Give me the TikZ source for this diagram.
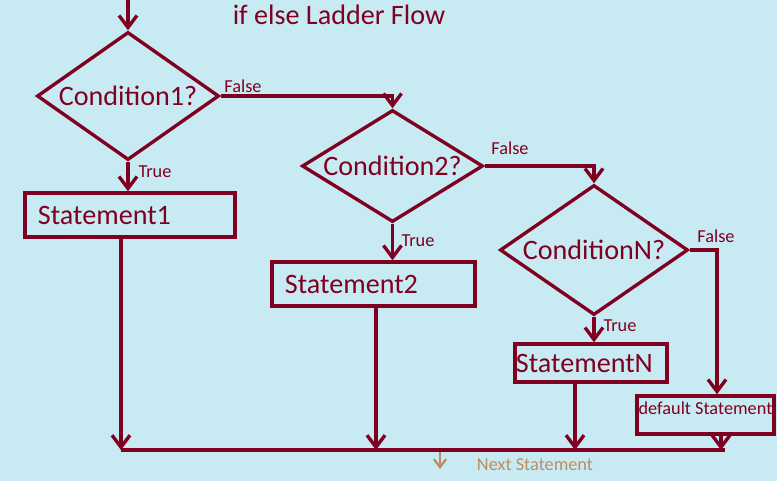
\documentclass[tikz,border=0pt]{standalone}
\usepackage{fontspec}
\setmainfont{Carlito}
\usetikzlibrary{arrows.meta, shapes.geometric}
\definecolor{flowred}{RGB}{127,0,32}
\definecolor{flowbg}{RGB}{200,235,243}
\definecolor{flowtan}{RGB}{190,140,100}

\begin{document}
\begin{tikzpicture}[x=0.025cm, y=-0.025cm, line width=2.4pt, draw=flowred, text=flowred,
    cond/.style = {draw, diamond, inner sep=0pt, font=\fontsize{20}{24}\selectfont},
    stmt/.style = {draw, rectangle, inner ysep=0pt, align=left, font=\fontsize{20}{24}\selectfont},
    lbl/.style = {inner sep=0pt, font=\fontsize{13}{15}\selectfont},
    arr/.style = {-{Straight Barb[length=3mm, width=4.5mm]}}]

    \useasboundingbox (0,0) rectangle (777,481);
    \fill[flowbg] (0,0) rectangle (777,481);

    \node[font=\fontsize{20}{24}\selectfont] (title) at (339,15) {if else Ladder Flow};

    % conditions
    \node[cond, aspect=1.42, minimum width=4.55cm, minimum height=3.2cm] (d1) at (128,96) {Condition1?};
    \node[cond, aspect=1.62, minimum width=4.525cm, minimum height=2.8cm] (d2) at (392.5,166) {Condition2?};
    \node[cond, aspect=1.45, minimum width=4.7cm, minimum height=3.25cm] (dN) at (594,250) {ConditionN?};

    % statements
    \node[stmt, text width=4.6cm, inner xsep=0.325cm, minimum height=1.1cm] (s1) at (130,215) {Statement1};
    \node[stmt, text width=4.425cm, inner xsep=0.325cm, minimum height=1.1cm] (s2) at (373.5,284) {Statement2};
    \node[stmt, text width=3.75cm, inner xsep=0.025cm, minimum height=0.95cm] (sN) at (591,363) {StatementN};
    \node[draw, inner xsep=0pt, inner ysep=0pt, minimum width=3.425cm, minimum height=0.95cm, text depth=10pt,
          font=\fontsize{13}{15}\selectfont] (def) at (705.5,415) {default Statement};

    % labels
    \node[lbl] (f1) at (243,86) {False};
    \node[lbl] (t1) at (155,172) {True};
    \node[lbl] (f2) at (510,148) {False};
    \node[lbl] (t2) at (418,241) {True};
    \node[lbl] (fN) at (716,236) {False};
    \node[lbl] (tN) at (620,326) {True};
    \node[font=\fontsize{13}{15}\selectfont, text=flowtan] (next) at (535,465) {Next Statement};

    \coordinate (entry) at (128,0);
    \coordinate (fc) at (717,250);
    \coordinate (j1) at (121,450);
    \coordinate (j2) at (376,450);
    \coordinate (j3) at (575,450);
    \coordinate (j4) at (721,450);
    \coordinate (je) at (725,450);
    \coordinate (na) at (440,452);
    \coordinate (nb) at (440,469);

    % flow
    \draw[arr] (entry) -- (d1.north);
    \draw[arr] (d1.south) -- (d1.south |- s1.north);
    \draw[arr] (d1.east) -| (d2.north);
    \draw[arr] (d2.south) -- (d2.south |- s2.north);
    \draw[arr] (d2.east) -| (dN.north);
    \draw[arr] (dN.south) -- (dN.south |- sN.north);
    \draw[arr] (dN.east) -- (fc) -- (fc |- def.north);

    % join
    \draw (j1) -- (je);
    \draw[arr] (s1.south -| j1) -- (j1);
    \draw[arr] (s2.south -| j2) -- (j2);
    \draw[arr] (sN.south -| j3) -- (j3);
    \draw[arr] (def.south -| j4) -- (j4);
    \draw[flowtan, line width=1.6pt, -{Straight Barb[length=2mm, width=3mm]}] (na) -- (nb);
\end{tikzpicture}
\end{document}
